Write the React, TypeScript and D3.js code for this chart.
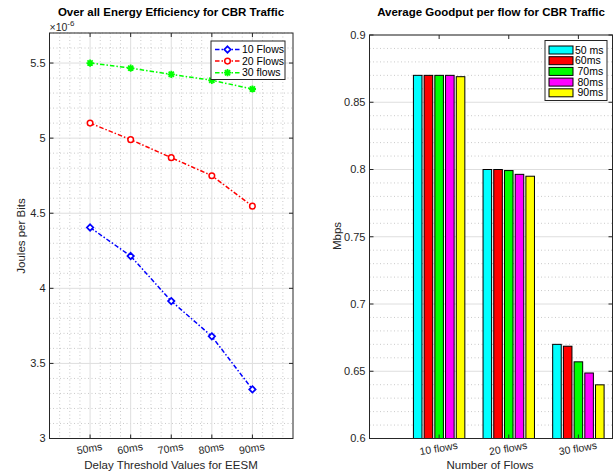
import React from "react";
import * as d3 from "d3";

const delays = [50, 60, 70, 80, 90];
const delayLabels = ["50ms", "60ms", "70ms", "80ms", "90ms"];
const flows10 = [4.405, 4.215, 3.915, 3.68, 3.327];
const flows20 = [5.1, 4.99, 4.87, 4.75, 4.547];
const flows30 = [5.5, 5.466, 5.425, 5.385, 5.327];
const lineSeriesNames = ["10 Flows", "20 Flows", "30 flows"];
const lineColors = ["#0000ff", "#ff0000", "#00ff00"];
const lineMarkers = ["diamond", "circle", "asterisk"];
const leftYTicks = [3, 3.5, 4, 4.5, 5, 5.5];

const flowCategories = ["10 flows", "20 flows", "30 flows"];
const goodput50 = [0.87, 0.8, 0.67];
const goodput60 = [0.87, 0.8, 0.6686];
const goodput70 = [0.87, 0.7992, 0.657];
const goodput80 = [0.87, 0.7964, 0.6487];
const goodput90 = [0.869, 0.795, 0.6399];
const barSeriesNames = ["50 ms", "60ms", "70ms", "80ms", "90ms"];
const barColors = ["#00ffff", "#ff0000", "#00ff00", "#ff00ff", "#ffff00"];
const rightYTicks = [0.6, 0.65, 0.7, 0.75, 0.8, 0.85, 0.9];

const FONT = "'Liberation Sans', Arial, Helvetica, sans-serif";
const AX = "#262626";
const GRID = "#dedede";
const MINOR = "#bdbdbd";
const DASH = "4.5,2,1.5,2";

function Marker({ type, x, y, color }: { type: string; x: number; y: number; color: string }) {
  if (type === "diamond") {
    const s = 3.2;
    return (
      <path d={`M${x},${y - s}L${x + s},${y}L${x},${y + s}L${x - s},${y}Z`} fill="white" stroke={color} strokeWidth={1.7} />
    );
  }
  if (type === "circle") {
    return <circle cx={x} cy={y} r={2.8} fill="white" stroke={color} strokeWidth={1.5} />;
  }
  const s = 3.6;
  const d = s * 0.72;
  return (
    <path
      d={`M${x - s},${y}L${x + s},${y}M${x},${y - s}L${x},${y + s}M${x - d},${y - d}L${x + d},${y + d}M${x - d},${y + d}L${x + d},${y - d}`}
      stroke={color}
      strokeWidth={1.8}
      fill="none"
    />
  );
}

function LeftChart() {
  const L = 49.5, R = 293, T = 33, B = 438.5;
  const x = d3.scaleLinear().domain([40, 100]).range([L, R]);
  const y = d3.scaleLinear().domain([3, 5.7]).range([B, T]);
  const series = [flows10, flows20, flows30];
  const minorX = d3.range(40, 100.01, 2.5).filter((v) => v % 10 !== 0);
  const majorX = d3.range(50, 91, 10);
  const minorY = d3.range(3, 5.71, 0.1).filter((v) => Math.abs(v * 2 - Math.round(v * 2)) > 1e-6);
  const line = d3
    .line<number>()
    .x((_, i) => x(delays[i]))
    .y((d) => y(d));
  return (
    <g>
      {minorX.map((v) => (
        <line key={"mx" + v} x1={x(v)} x2={x(v)} y1={T} y2={B} stroke={MINOR} strokeWidth={0.8} strokeDasharray="1,2.5" />
      ))}
      {minorY.map((v) => (
        <line key={"my" + v} x1={L} x2={R} y1={y(v)} y2={y(v)} stroke={MINOR} strokeWidth={0.8} strokeDasharray="1,2.5" />
      ))}
      {majorX.map((v) => (
        <line key={"gx" + v} x1={x(v)} x2={x(v)} y1={T} y2={B} stroke={GRID} strokeWidth={1} />
      ))}
      {leftYTicks.map((v) => (
        <line key={"gy" + v} x1={L} x2={R} y1={y(v)} y2={y(v)} stroke={GRID} strokeWidth={1} />
      ))}
      {series.map((s, k) => (
        <g key={"s" + k}>
          <path d={line(s) || ""} fill="none" stroke={lineColors[k]} strokeWidth={1.5} strokeDasharray={DASH} />
          {s.map((v, i) => (
            <Marker key={i} type={lineMarkers[k]} x={x(delays[i])} y={y(v)} color={lineColors[k]} />
          ))}
        </g>
      ))}
      <rect x={L} y={T} width={R - L} height={B - T} fill="none" stroke={AX} strokeWidth={1} />
      {majorX.map((v) => (
        <g key={"tx" + v}>
          <line x1={x(v)} x2={x(v)} y1={B} y2={B - 4} stroke={AX} />
          <line x1={x(v)} x2={x(v)} y1={T} y2={T + 4} stroke={AX} />
        </g>
      ))}
      {leftYTicks.map((v) => (
        <g key={"ty" + v}>
          <line x1={L} x2={L + 4} y1={y(v)} y2={y(v)} stroke={AX} />
          <line x1={R} x2={R - 4} y1={y(v)} y2={y(v)} stroke={AX} />
          <text x={L - 4} y={y(v) + 3.8} textAnchor="end" fontSize={11} fill={AX} fontFamily={FONT}>
            {String(v)}
          </text>
        </g>
      ))}
      {delays.map((v, i) => (
        <text
          key={"xl" + v}
          transform={`translate(${x(v)},${452}) rotate(-10)`}
          textAnchor="middle"
          fontSize={10.5}
          fill={AX}
          fontFamily={FONT}
        >
          {delayLabels[i]}
        </text>
      ))}
      <text x={L} y={31} fontSize={10.5} fill={AX} fontFamily={FONT}>
        ×10
        <tspan dy={-5} fontSize={8}>
          -6
        </tspan>
      </text>
      <text x={171} y={16} textAnchor="middle" fontSize={11.5} fontWeight="bold" fill="#000" fontFamily={FONT}>
        Over all Energy Efficiency for CBR Traffic
      </text>
      <text x={171} y={469} textAnchor="middle" fontSize={11.5} fill={AX} fontFamily={FONT}>
        Delay Threshold Values for EESM
      </text>
      <text transform={`translate(25,236) rotate(-90)`} textAnchor="middle" fontSize={11.5} fill={AX} fontFamily={FONT}>
        Joules per Bits
      </text>
      <g>
        <rect x={211} y={41} width={74} height={38.5} fill="white" stroke={AX} strokeWidth={1} />
        {lineSeriesNames.map((n, k) => {
          const ry = 49.5 + k * 11.6;
          return (
            <g key={"lg" + k}>
              <line x1={215} x2={240} y1={ry} y2={ry} stroke={lineColors[k]} strokeWidth={1.5} strokeDasharray={DASH} />
              <Marker type={lineMarkers[k]} x={227.5} y={ry} color={lineColors[k]} />
              <text x={242} y={ry + 3.6} fontSize={10.5} fill="#000" fontFamily={FONT}>
                {n}
              </text>
            </g>
          );
        })}
      </g>
    </g>
  );
}

function RightChart() {
  const L = 369.5, R = 612.5, T = 35, B = 438.5;
  const x = d3.scaleLinear().domain([0, 3.49]).range([L, R]);
  const y = d3.scaleLinear().domain([0.6, 0.9]).range([B, T]);
  const series = [goodput50, goodput60, goodput70, goodput80, goodput90];
  const n = series.length;
  const groupW = Math.min(0.8, n / (n + 1.5));
  const slot = groupW / n;
  const barW = slot * 0.8;
  const minorY = d3.range(0.6, 0.9001, 0.01).filter((v) => Math.abs(v * 20 - Math.round(v * 20)) > 1e-6);
  return (
    <g>
      {minorY.map((v) => (
        <line key={"my" + v} x1={L} x2={R} y1={y(v)} y2={y(v)} stroke={MINOR} strokeWidth={0.8} strokeDasharray="1,2.5" />
      ))}
      {rightYTicks.map((v) => (
        <line key={"gy" + v} x1={L} x2={R} y1={y(v)} y2={y(v)} stroke={GRID} strokeWidth={1} />
      ))}
      {series.map((s, k) =>
        s.map((v, i) => {
          const cx = x(i + 1) + (x(slot) - x(0)) * (k - (n - 1) / 2);
          const w = x(barW) - x(0);
          return (
            <rect
              key={`b${k}-${i}`}
              x={cx - w / 2}
              y={y(v)}
              width={w}
              height={B - y(v)}
              fill={barColors[k]}
              stroke="#000"
              strokeWidth={1}
            />
          );
        })
      )}
      <rect x={L} y={T} width={R - L} height={B - T} fill="none" stroke={AX} strokeWidth={1} />
      {flowCategories.map((c, i) => (
        <g key={"tx" + i}>
          <line x1={x(i + 1)} x2={x(i + 1)} y1={B} y2={B - 4} stroke={AX} />
          <line x1={x(i + 1)} x2={x(i + 1)} y1={T} y2={T + 4} stroke={AX} />
          <text
            transform={`translate(${x(i + 1)},${452}) rotate(-10)`}
            textAnchor="middle"
            fontSize={10.5}
            fill={AX}
            fontFamily={FONT}
          >
            {c}
          </text>
        </g>
      ))}
      {rightYTicks.map((v) => (
        <g key={"ty" + v}>
          <line x1={L} x2={L + 4} y1={y(v)} y2={y(v)} stroke={AX} />
          <line x1={R} x2={R - 4} y1={y(v)} y2={y(v)} stroke={AX} />
          <text x={L - 4} y={y(v) + 3.8} textAnchor="end" fontSize={11} fill={AX} fontFamily={FONT}>
            {String(v)}
          </text>
        </g>
      ))}
      <text x={491} y={16} textAnchor="middle" fontSize={11.5} fontWeight="bold" fill="#000" fontFamily={FONT}>
        Average Goodput per flow for CBR Traffic
      </text>
      <text x={490} y={469} textAnchor="middle" fontSize={11.5} fill={AX} fontFamily={FONT}>
        Number of Flows
      </text>
      <text transform={`translate(341,236) rotate(-90)`} textAnchor="middle" fontSize={11.5} fill={AX} fontFamily={FONT}>
        Mbps
      </text>
      <g>
        <rect x={545} y={40.5} width={62} height={60} fill="white" stroke={AX} strokeWidth={1} />
        {barSeriesNames.map((nm, k) => {
          const ry = 50 + k * 10.7;
          const tx = k < 2 ? 575 : 577.5;
          return (
            <g key={"lg" + k}>
              <rect x={549} y={ry - 4} width={24} height={8} fill={barColors[k]} stroke="#000" strokeWidth={1} />
              <text x={tx} y={ry + 3.6} fontSize={10.5} fill="#000" fontFamily={FONT}>
                {nm}
              </text>
            </g>
          );
        })}
      </g>
    </g>
  );
}

export default function App() {
  return (
    <svg
      width={616}
      height={471}
      viewBox="0 0 616 471"
      style={{ position: "absolute", left: 0, top: 0, background: "white" }}
    >
      <rect x={0} y={0} width={616} height={471} fill="white" />
      <LeftChart />
      <RightChart />
    </svg>
  );
}
